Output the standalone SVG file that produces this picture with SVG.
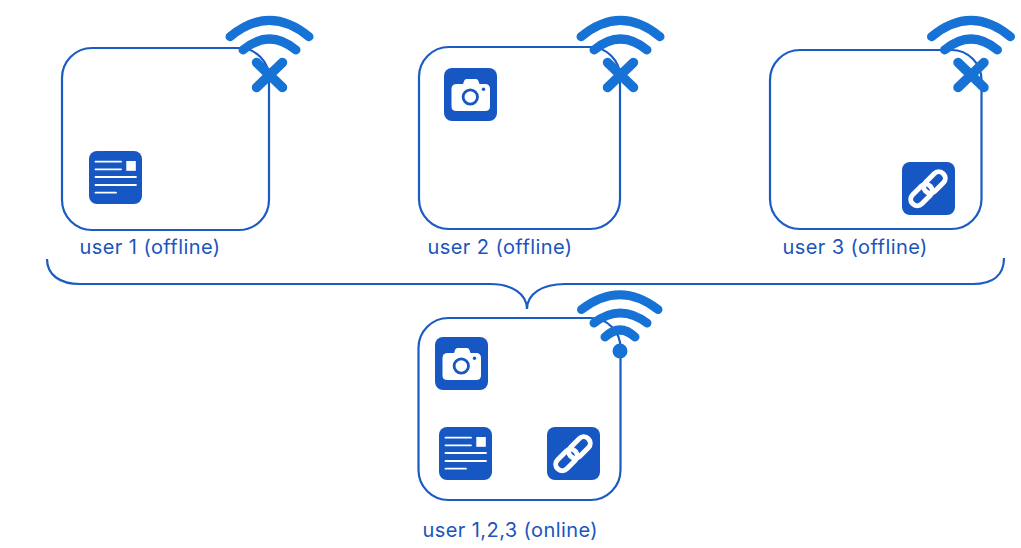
<svg xmlns="http://www.w3.org/2000/svg" width="1021" height="548" viewBox="0 0 1021 548">
<style>
.box{fill:none;stroke:#1a5bc4;stroke-width:2.200}
.brace{fill:none;stroke:#1a5bc4;stroke-width:2.200}
.wave{fill:none;stroke:#1672d4;stroke-width:9;stroke-linecap:round}
.cross{fill:none;stroke:#1672d4;stroke-width:9.500;stroke-linecap:round}
.tile{fill:#1757c3}
.w{fill:#fff}
.wl{fill:none;stroke:#fff;stroke-width:1.800;stroke-linecap:round}
.label{font-family:"Inter","Liberation Sans",sans-serif;font-size:20px;letter-spacing:.42px;fill:#1a55bd}
</style>
<defs>
<g id="doc">
<rect class="tile" width="53" height="53" rx="8"/>
<path class="wl" d="M6.500 10.700H32M6.500 18.300H32M6.500 26H47M6.500 34H47M6.500 41.700H27"/>
<rect class="w" x="37.300" y="10" width="9.500" height="9.800"/>
</g>
<g id="camera">
<rect class="tile" width="53" height="53" rx="8"/>
<path class="w" d="M13 16H19L20.300 12.500Q20.800 11 22.500 11H32Q33.700 11 34.200 12.500L35.500 16H41Q46 16 46 21V38.500Q46 43 41 43H12.500Q7.500 43 7.500 38.500V21Q7.500 16 13 16Z"/>
<circle cx="26.300" cy="29" r="7.200" fill="none" stroke="#1757c3" stroke-width="2.800"/>
<circle cx="39.500" cy="21.300" r="1.700" fill="#1757c3"/>
</g>
<g id="link">
<rect class="tile" width="53" height="53" rx="8"/>
<g fill="none" stroke="#fff" stroke-width="5">
<rect x="-12.500" y="-6.500" width="25" height="13" rx="6.500" transform="translate(19.500 33) rotate(-45)"/>
<rect x="-12.500" y="-6.500" width="25" height="13" rx="6.500" transform="translate(32.500 20.500) rotate(-45)"/>
</g>
</g>
<g id="wifi-off">
<path class="wave" d="M-39.500 -38.300Q0 -71 39.500 -38.300"/>
<path class="wave" d="M-26.500 -25Q0 -47 26.500 -25"/>
<path class="cross" d="M-13 -12.500L13 12.500M13 -12.500L-13 12.500"/>
</g>
</defs>
<rect width="1021" height="548" fill="#fff"/>
<g id="connectors">
<path class="brace" d="M47 259C47 275 60 284 80 284H490C512 284 527 294 527 309C527 294 542 284 565 284H973C993 284 1004 275 1004 258"/>
</g>
<g id="node-user1">
<rect class="box" x="62" y="48" width="207" height="182" rx="30"/>
<use href="#wifi-off" x="269.500" y="75"/>
<use href="#doc" x="89" y="151"/>
<text class="label" x="79.500" y="254">user 1 (offline)</text>
</g>
<g id="node-user2">
<rect class="box" x="419" y="47" width="201" height="182" rx="30"/>
<use href="#wifi-off" x="620.500" y="75"/>
<use href="#camera" x="444" y="68"/>
<text class="label" x="427.500" y="254">user 2 (offline)</text>
</g>
<g id="node-user3">
<rect class="box" x="770" y="50" width="211.500" height="179" rx="30"/>
<use href="#wifi-off" x="971" y="75"/>
<use href="#link" x="902" y="162"/>
<text class="label" x="782.500" y="254">user 3 (offline)</text>
</g>
<g id="node-users-online">
<rect class="box" x="418.500" y="318" width="202" height="182" rx="30"/>
<path class="wave" d="M581.500 309.500Q620 280 658 309.500"/>
<path class="wave" d="M594 323Q620 303 647 323"/>
<path class="wave" d="M605 337Q620 323 635 337"/>
<circle cx="620" cy="351" r="7.500" fill="#1672d4"/>
<use href="#camera" x="435" y="337"/>
<use href="#doc" x="439" y="427"/>
<use href="#link" x="547" y="427"/>
<text class="label" x="422.500" y="537">user 1,2,3 (online)</text>
</g>
</svg>
